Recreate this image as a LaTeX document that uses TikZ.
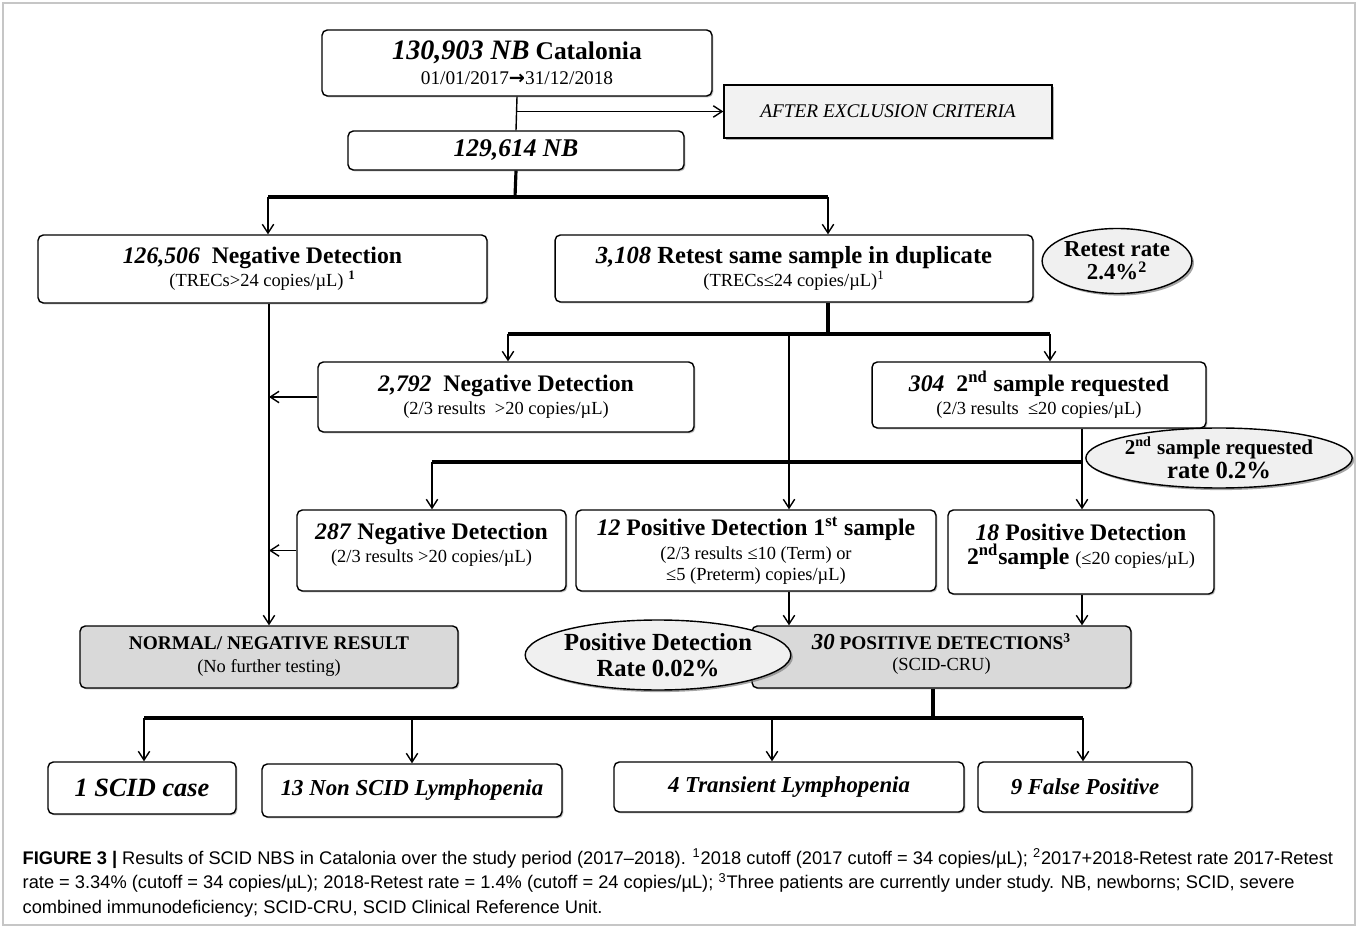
\documentclass[tikz,border=0pt]{standalone}
\usepackage{fontspec}
\setmainfont{Liberation Serif}
\setsansfont{Liberation Sans}
\newfontfamily\arrowfont{DejaVu Sans}
\usetikzlibrary{arrows.meta,shapes,shadows}
\newcommand{\detail}[1]{{\mdseries\upshape\fontsize{10.5}{13}\selectfont #1}}
\tikzstyle{bx} = [rectangle, draw, fill=white, rounded corners=3pt, inner sep=0pt,
    align=center, font=\bfseries\fontsize{13.5}{13}\selectfont,
    drop shadow={shadow xshift=0.8pt, shadow yshift=-0.8pt, opacity=0.5}]
\tikzstyle{gbx} = [bx, fill=gray!30]
\tikzstyle{note} = [rectangle, draw, fill=gray!10, inner sep=0pt,
    font=\itshape\fontsize{11}{12}\selectfont,
    drop shadow={shadow xshift=1pt, shadow yshift=-1pt, opacity=0.6}]
\tikzstyle{rate} = [ellipse, draw, fill=gray!12, inner sep=0pt, align=center,
    font=\bfseries\fontsize{13}{13}\selectfont,
    drop shadow={shadow xshift=1.2pt, shadow yshift=-1.2pt, opacity=0.7}]
\tikzstyle{outcome} = [bx, font=\bfseries\itshape\fontsize{13}{15}\selectfont]
\tikzstyle{bar} = [line width=1.8pt]

\begin{document}
\begin{tikzpicture}[x=0.02cm,y=-0.02cm,>={Straight Barb[length=5pt,width=6.5pt]},line width=0.8pt]
  \useasboundingbox (0,0) rectangle (1358,928);
  \draw[gray!45] (3,3) rectangle (1355,925);

  % boxes
  \node[bx,minimum width=7.8cm,minimum height=1.32cm] (top) at (517,63)
    {{\fontsize{16}{13}\selectfont\itshape 130,903 NB} {\fontsize{14.5}{13}\selectfont Catalonia}\\[1pt]
     \detail{\fontsize{11}{13}\selectfont 01/01/2017{\arrowfont\bfseries →}31/12/2018}};
  \node[note,minimum width=6.56cm,minimum height=1.06cm] (excl) at (888,111.5) {AFTER EXCLUSION CRITERIA};
  \node[bx,minimum width=6.72cm,minimum height=0.78cm,font=\bfseries\itshape\fontsize{14.5}{13}\selectfont] (nb) at (516,150.5) {129,614 NB};
  \node[bx,minimum width=8.98cm,minimum height=1.36cm] (neg1) at (262.5,269)
    {\textit{126,506}\ \ Negative Detection\\ \detail{(TRECs>24 copies/µL) \textsuperscript{\bfseries 1}}};
  \node[bx,minimum width=9.56cm,minimum height=1.34cm,font=\bfseries\fontsize{14}{13}\selectfont] (retest) at (794,268.5)
    {\textit{3,108} Retest same sample in duplicate\\ \detail{(TRECs≤24 copies/µL)\textsuperscript{1}}};
  \node[rate,minimum width=2.9cm,minimum height=1.3cm] (rrate) at (1117,261) {Retest rate\\ 2.4\%\textsuperscript{2}};
  \node[bx,minimum width=7.52cm,minimum height=1.4cm] (neg2) at (506,397)
    {\textit{2,792}\ \ Negative Detection\\ \detail{(2/3 results\ \ >20 copies/µL)}};
  \node[bx,minimum width=6.68cm,minimum height=1.32cm] (req) at (1039,395)
    {\textit{304}\ \ 2\textsuperscript{nd} sample requested\\ \detail{(2/3 results\ \ ≤20 copies/µL)}};
  \node[rate,minimum width=3.88cm,minimum height=1.2cm] (reqrate) at (1219,458)
    {{\fontsize{12}{13}\selectfont 2\textsuperscript{nd} sample requested}\\[1pt] {\fontsize{14}{14}\selectfont rate 0.2\%}};
  \node[bx,minimum width=5.38cm,minimum height=1.62cm] (neg3) at (431.5,550.5)
    {\textit{287} Negative Detection\\ \detail{(2/3 results >20 copies/µL)}\\[-4pt]};
  \node[bx,minimum width=7.2cm,minimum height=1.62cm] (pos1) at (756,550.5)
    {\textit{12} Positive Detection 1\textsuperscript{st} sample\\[1pt] \detail{(2/3 results ≤10 (Term) or}\\[-1.5pt] \detail{≤5 (Preterm) copies/µL)}};
  \node[bx,minimum width=5.32cm,minimum height=1.68cm] (pos2) at (1081,552)
    {\textit{18} Positive Detection\\[1pt] 2\textsuperscript{nd}sample \detail{(≤20 copies/µL)}\\[-4pt]};
  \node[gbx,minimum width=7.56cm,minimum height=1.24cm,font=\bfseries\fontsize{11}{13}\selectfont] (normal) at (269,657)
    {NORMAL/ NEGATIVE RESULT\\ \detail{(No further testing)}};
  \node[gbx,minimum width=7.58cm,minimum height=1.24cm,font=\bfseries\fontsize{11}{12}\selectfont] (pos30) at (941.5,657)
    {\textit{\fontsize{13}{12}\selectfont 30} POSITIVE DETECTIONS\textsuperscript{3}\\ \detail{(SCID-CRU)}\\[-6pt]};
  \node[rate,minimum width=4.88cm,minimum height=1.4cm,font=\bfseries\fontsize{14}{15}\selectfont] (prate) at (658,655)
    {Positive Detection\\ Rate 0.02\%};
  \node[outcome,minimum width=3.76cm,minimum height=1.04cm,font=\bfseries\itshape\fontsize{15}{15}\selectfont] (scid) at (142,788) {1 SCID case};
  \node[outcome,minimum width=6cm,minimum height=1.06cm] (nonscid) at (412,790.5) {13 Non SCID Lymphopenia};
  \node[outcome,minimum width=7cm,minimum height=1cm] (trans) at (789,787) {4 Transient Lymphopenia};
  \node[outcome,minimum width=4.28cm,minimum height=1cm] (falsep) at (1085,787) {9 False Positive};

  % branch points
  \coordinate (s1l) at (268,197);  \coordinate (s1) at (515,197);  \coordinate (s1r) at (828,197);
  \coordinate (s2l) at (508,334);  \coordinate (s2m) at (789,334); \coordinate (s2) at (828,334);
  \coordinate (s2r) at (1050,334);
  \coordinate (s3l) at (432,462);  \coordinate (s3r) at (1082,462);
  \coordinate (s4a) at (144,718);  \coordinate (s4b) at (412,718); \coordinate (s4c) at (772,718);
  \coordinate (s4) at (933,718);   \coordinate (s4d) at (1083,718);

  % connectors
  \draw (top.south) -- (nb.north);
  \draw[->] (top.south |- excl.west) -- (excl.west);
  \draw[bar] (nb.south) -- (s1);
  \draw[bar] (s1l) -- (s1r);
  \draw[->] (s1l) -- (s1l |- neg1.north);
  \draw[->] (s1r) -- (s1r |- retest.north);

  \draw[->] (neg1.south -| normal.north) -- (normal.north);
  \draw[->] (neg2.west) -- (neg2.west -| normal.north);
  \draw[->] (neg3.west) -- (neg3.west -| normal.north);

  \draw[bar] (s2 |- retest.south) -- (s2);
  \draw[bar] (s2l) -- (s2r);
  \draw[->] (s2l) -- (s2l |- neg2.north);
  \draw[->] (s2m) -- (s2m |- pos1.north);
  \draw[->] (s2r) -- (s2r |- req.north);

  \draw (s3r |- req.south) -- (s3r);
  \draw[bar] (s3l) -- (s3r);
  \draw[->] (s3l) -- (s3l |- neg3.north);
  \draw[->] (s3r) -- (s3r |- pos2.north);

  \draw[->] (s2m |- pos1.south) -- (s2m |- pos30.north);
  \draw[->] (s3r |- pos2.south) -- (s3r |- pos30.north);

  \draw[bar] (s4 |- pos30.south) -- (s4);
  \draw[line width=2.2pt] (s4a) -- (s4d);
  \foreach \c/\n in {s4a/scid, s4b/nonscid, s4c/trans, s4d/falsep}
    \draw[->] (\c) -- (\c |- \n.north);

  % caption
  \node[anchor=north west, align=left, inner sep=0pt, font=\sffamily\fontsize{10.4}{14.2}\selectfont] (caption) at (22,848)
    {\textbf{FIGURE 3 |} Results of SCID NBS in Catalonia over the study period (2017–2018). \textsuperscript{1}2018 cutoff (2017 cutoff = 34 copies/µL); \textsuperscript{2}2017+2018-Retest rate 2017-Retest\\
     rate = 3.34\% (cutoff = 34 copies/µL); 2018-Retest rate = 1.4\% (cutoff = 24 copies/µL); \textsuperscript{3}Three patients are currently under study. NB, newborns; SCID, severe\\
     combined immunodeficiency; SCID-CRU, SCID Clinical Reference Unit.};
\end{tikzpicture}
\end{document}
